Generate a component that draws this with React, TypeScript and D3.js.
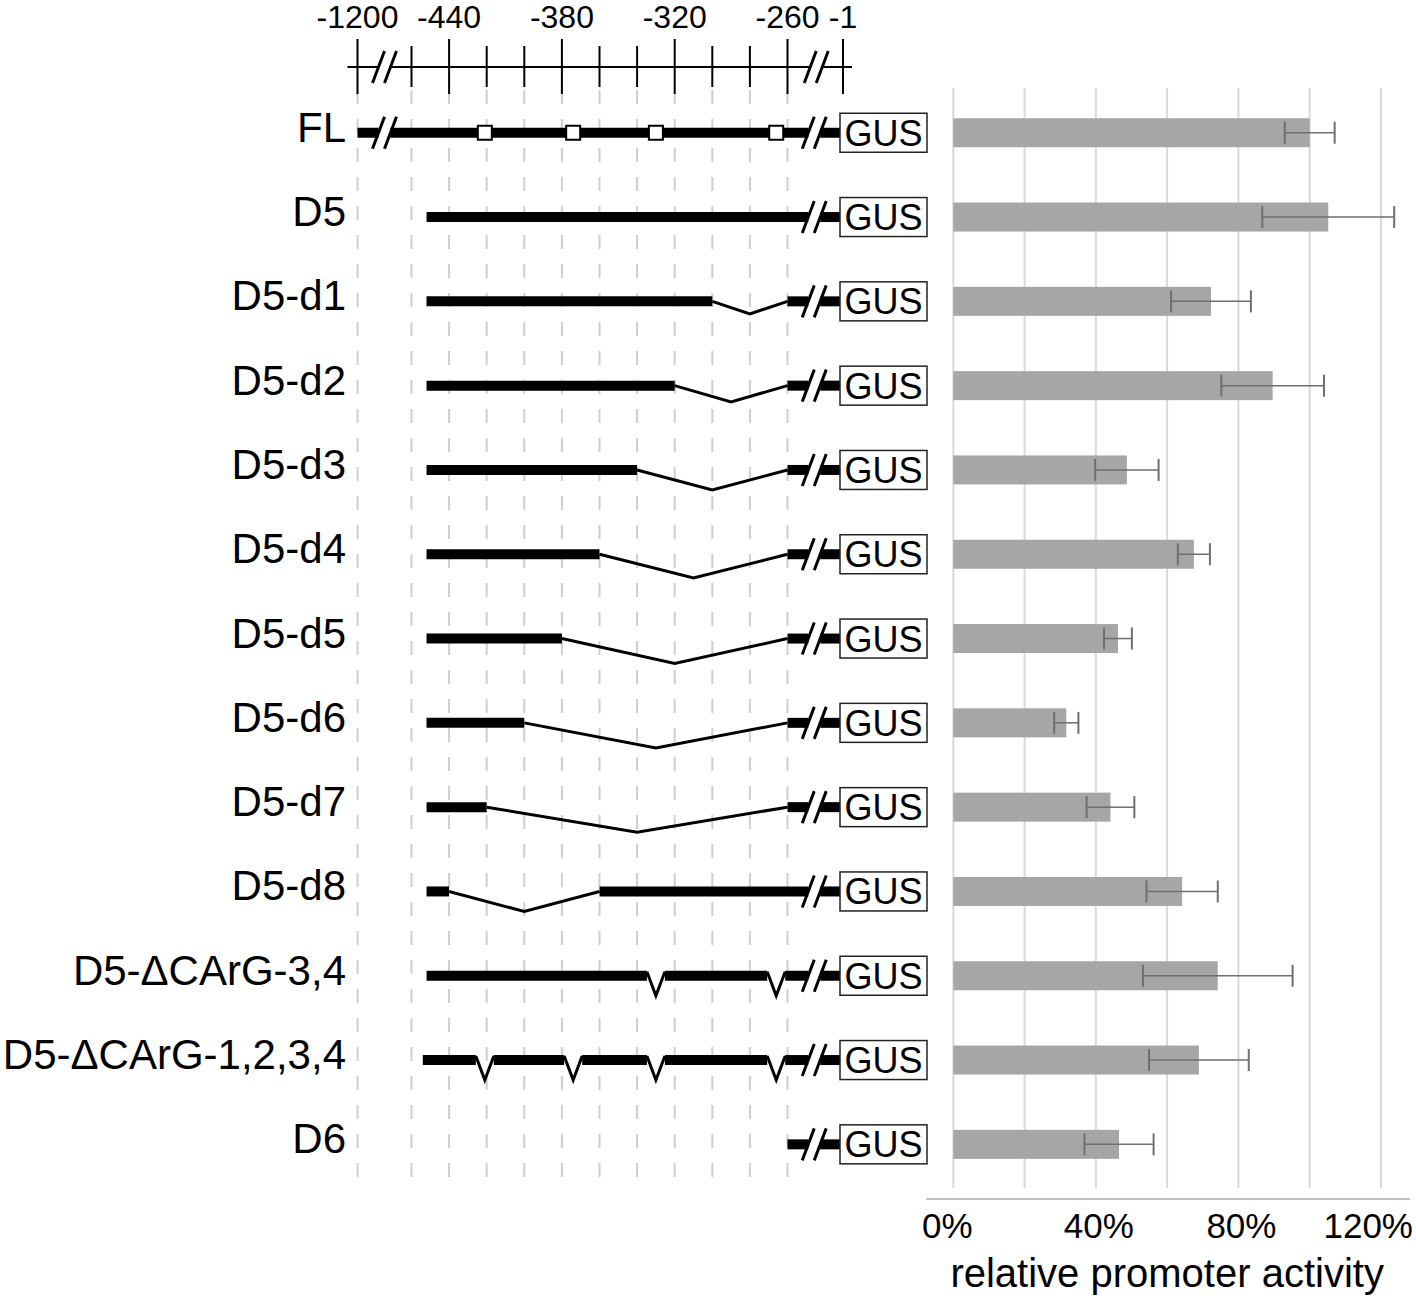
import React from 'react';
import * as d3 from 'd3';

// ---------- data ----------
const constructs = [
  'FL', 'D5', 'D5-d1', 'D5-d2', 'D5-d3', 'D5-d4', 'D5-d5', 'D5-d6', 'D5-d7', 'D5-d8',
  'D5-ΔCArG-3,4', 'D5-ΔCArG-1,2,3,4', 'D6',
];
// relative promoter activity (fraction of FL)
const activity = [1.0, 1.052, 0.723, 0.896, 0.487, 0.675, 0.462, 0.317, 0.441, 0.642, 0.742, 0.689, 0.465];
const activityErr = [0.07, 0.185, 0.112, 0.144, 0.089, 0.045, 0.039, 0.034, 0.067, 0.10, 0.21, 0.14, 0.097];
// promoter fragment start (bp upstream)
const fragmentStart = [-1200, -452, -452, -452, -452, -452, -452, -452, -452, -452, -452, -454, -260];
// internal deletions [from, to] in bp
const deletions: [number, number][][] = [
  [], [], [[-300, -260]], [[-320, -260]], [[-340, -260]], [[-360, -260]], [[-380, -260]],
  [[-400, -260]], [[-420, -260]], [[-440, -360]], [], [], [],
];
// CArG box positions (bp)
const cargSites = [-421, -374, -330, -266];
const cargShown: number[][] = [[0, 1, 2, 3], [], [], [], [], [], [], [], [], [], [], [], []];
const cargDeleted: number[][] = [[], [], [], [], [], [], [], [], [], [], [2, 3], [0, 1, 2, 3], []];

// top axis
const bpTicks = [-1200, -460, -440, -420, -400, -380, -360, -340, -320, -300, -280, -260, -1];
const bpLabels = [-1200, -440, -380, -320, -260, -1];
const bpGrid = [-1200, -460, -440, -420, -400, -380, -360, -340, -320, -300, -280, -260];
// activity axis
const pctGrid = [0, 0.2, 0.4, 0.6, 0.8, 1.0, 1.2];
const pctLabels = [0, 0.4, 0.8, 1.2];
const xTitle = 'relative promoter activity';
const boxLabel = 'GUS';

// ---------- layout ----------
const W = 1416;
const H = 1310;
const FONT = "'Liberation Sans', Arial, Helvetica, sans-serif";

const xBp = d3.scaleLinear().domain([-1200, -460, -260, -1]).range([357.5, 411.5, 787.5, 843]);
const xPct = d3.scaleLinear().domain([0, 1.2]).range([953.3, 1381]);
const yBand = d3.scaleBand<string>().domain(constructs).range([90.6, 1186.5]);
const rowY = (c: string) => (yBand(c) as number) + yBand.bandwidth() / 2;

const leftBreak = (xBp(-1200) + xBp(-460)) / 2;
const rightBreak = (xBp(-260) + xBp(-1)) / 2 - 1;
const boxLeft = xBp(-1) - 3;
const boxW = 87;
const boxH = 39;

function Slashes({ cx, cy, gap = 12, h = 16, w = 6 }: { cx: number; cy: number; gap?: number; h?: number; w?: number }) {
  return (
    <g stroke="#000" strokeWidth={3}>
      {[-gap / 2, gap / 2].map((o, i) => (
        <line key={i} x1={cx + o - w} y1={cy + h} x2={cx + o + w} y2={cy - h} />
      ))}
    </g>
  );
}

function Construct({ idx }: { idx: number }) {
  const name = constructs[idx];
  const y = rowY(name);
  const s = fragmentStart[idx];
  const x0 = xBp(s);
  const cuts: [number, number][] = [];
  if (s < -460) cuts.push([leftBreak - 6, leftBreak + 6]);
  cuts.push([rightBreak - 6, rightBreak + 6]);
  const dels = deletions[idx].map(([a, b]) => [xBp(a), xBp(b)] as [number, number]);
  dels.forEach((d) => cuts.push(d));
  const notches = cargDeleted[idx].map((k) => xBp(cargSites[k]));
  notches.forEach((c) => cuts.push([c - 9, c + 9]));
  cuts.sort((a, b) => a[0] - b[0]);
  const segs: [number, number][] = [];
  let cur = x0;
  cuts.forEach(([a, b]) => {
    if (a > cur) segs.push([cur, a]);
    cur = Math.max(cur, b);
  });
  if (boxLeft > cur) segs.push([cur, boxLeft]);

  return (
    <g>
      {segs.map(([a, b], i) => (
        <line key={'s' + i} x1={a} x2={b} y1={y} y2={y} stroke="#000" strokeWidth={10} />
      ))}
      {dels.map(([a, b], i) => {
        const depth = Math.min(25, 5 + (b - a) * 0.1);
        return (
          <polyline key={'d' + i} points={`${a},${y} ${(a + b) / 2},${y + depth} ${b},${y}`}
            fill="none" stroke="#000" strokeWidth={3} strokeLinejoin="miter" />
        );
      })}
      {notches.map((c, i) => (
        <polyline key={'n' + i} points={`${c - 9},${y - 4} ${c},${y + 20} ${c + 9},${y - 4}`}
          fill="none" stroke="#000" strokeWidth={3} />
      ))}
      {s < -460 && <Slashes cx={leftBreak} cy={y} />}
      <Slashes cx={rightBreak} cy={y} />
      {cargShown[idx].map((k) => (
        <rect key={'c' + k} x={xBp(cargSites[k]) - 7} y={y - 7} width={14} height={14}
          fill="#fff" stroke="#000" strokeWidth={2} />
      ))}
      <rect x={boxLeft} y={y - boxH / 2} width={boxW} height={boxH} fill="#fff" stroke="#222" strokeWidth={1.5} />
      <text x={boxLeft + boxW / 2} y={y + 13} textAnchor="middle" fontSize={36} fontFamily={FONT} fill="#000">{boxLabel}</text>
      <text x={346} y={y + 9} textAnchor="end" fontSize={42} fontFamily={FONT} fill="#000">{name}</text>
    </g>
  );
}

export default function App() {
  const axisY = 67;
  const gridTop = 90;
  const gridBottom = 1187;
  const barH = 29;
  return (
    <svg width={W} height={H} viewBox={`0 0 ${W} ${H}`}
      style={{ position: 'absolute', left: 0, top: 0, background: '#fff' }}>
      <rect x={0} y={0} width={W} height={H} fill="#fff" />
      {/* dashed guide lines */}
      {bpGrid.map((b) => (
        <line key={'g' + b} x1={xBp(b)} x2={xBp(b)} y1={gridTop} y2={gridBottom - 2}
          stroke="#cfcfcf" strokeWidth={2} strokeDasharray="14 15" />
      ))}
      {/* top bp axis */}
      <g stroke="#000" strokeWidth={2}>
        <line x1={xBp(-1200) - 10} x2={leftBreak - 6} y1={axisY} y2={axisY} />
        <line x1={leftBreak + 6} x2={rightBreak + 2 - 6} y1={axisY} y2={axisY} />
        <line x1={rightBreak + 2 + 6} x2={xBp(-1) + 9} y1={axisY} y2={axisY} />
        {bpTicks.map((t) => {
          const long = bpLabels.includes(t);
          return <line key={'t' + t} x1={xBp(t)} x2={xBp(t)} y1={long ? 39 : 46} y2={long ? 94 : 87} />;
        })}
      </g>
      <Slashes cx={leftBreak} cy={axisY} />
      <Slashes cx={rightBreak + 2} cy={axisY} />
      {bpLabels.map((t) => (
        <text key={'l' + t} x={xBp(t)} y={28} textAnchor="middle" fontSize={32} fontFamily={FONT} fill="#000">{t}</text>
      ))}
      {/* constructs */}
      {constructs.map((c, i) => <Construct key={c} idx={i} />)}
      {/* activity gridlines */}
      {pctGrid.map((p) => (
        <line key={'pg' + p} x1={xPct(p)} x2={xPct(p)} y1={gridTop - 2} y2={gridBottom + 1}
          stroke="#d9d9d9" strokeWidth={2} />
      ))}
      {/* bars */}
      {constructs.map((c, i) => {
        const y = rowY(c);
        const v = activity[i];
        const e = activityErr[i];
        return (
          <g key={'b' + c}>
            <rect x={xPct(0)} y={y - barH / 2} width={xPct(v) - xPct(0)} height={barH} fill="#a6a6a6" />
            <g stroke="#6f6f6f">
              <line x1={xPct(v - e)} x2={xPct(v + e)} y1={y} y2={y} strokeWidth={1.5} />
              <line x1={xPct(v - e)} x2={xPct(v - e)} y1={y - 11} y2={y + 11} strokeWidth={2} />
              <line x1={xPct(v + e)} x2={xPct(v + e)} y1={y - 11} y2={y + 11} strokeWidth={2} />
            </g>
          </g>
        );
      })}
      {/* bottom axis */}
      <line x1={xPct(0) - 27} x2={xPct(1.2) + 29} y1={1199} y2={1199} stroke="#bfbfbf" strokeWidth={2} />
      {pctLabels.map((p, i) => {
        const last = i === pctLabels.length - 1;
        const first = i === 0;
        return (
          <text key={'pl' + p} x={last ? W - 3 : first ? xPct(p) - 6 : xPct(p) + 3} y={1238}
            textAnchor={last ? 'end' : 'middle'}
            fontSize={35} fontFamily={FONT} fill="#000">{d3.format('.0%')(p)}</text>
        );
      })}
      <text x={(xPct(0) + xPct(1.2)) / 2} y={1287} textAnchor="middle" fontSize={40} fontFamily={FONT} fill="#000">{xTitle}</text>
    </svg>
  );
}
